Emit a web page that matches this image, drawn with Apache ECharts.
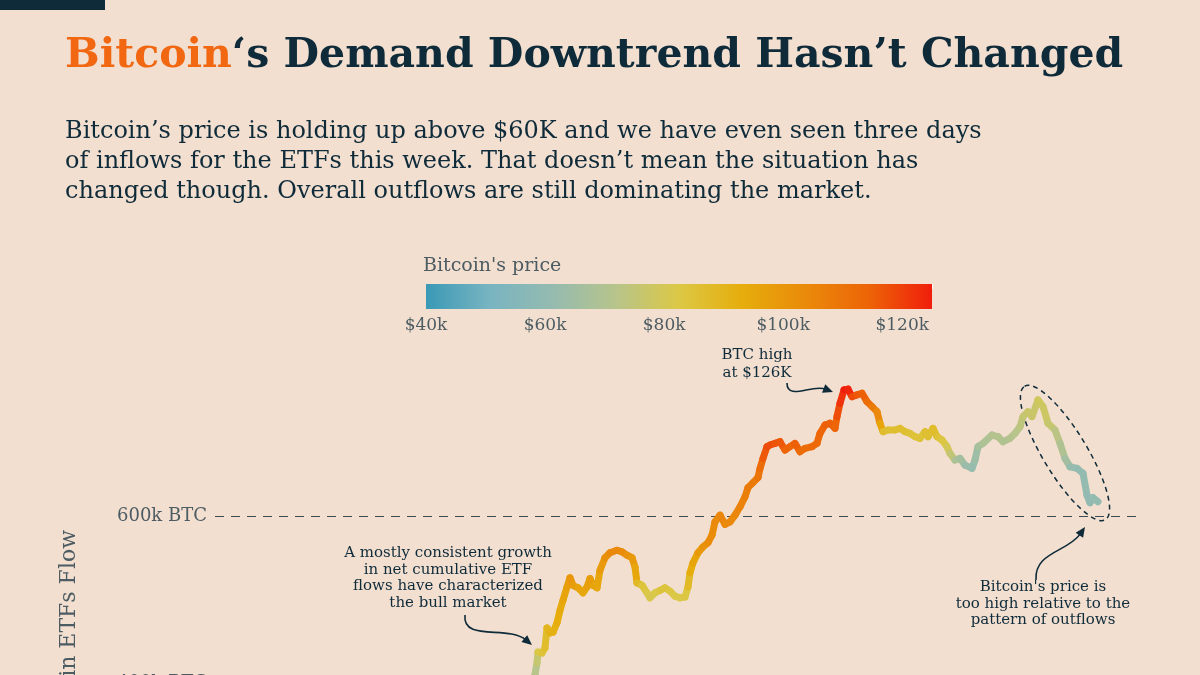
<!DOCTYPE html>
<html><head><meta charset="utf-8">
<script src="https://cdn.jsdelivr.net/npm/echarts@6/dist/echarts.min.js"></script>
<style>html,body{margin:0;padding:0;background:#f2dfd0;}#c{width:1200px;height:675px;}</style>
</head><body><div id="c"></div>
<script>
// ---- data ----
// time position of each sample (arbitrary day-like units along the x axis)
const t = [153.5,157.5,160,161,161.5,163.5,165,166,167.5,169,171,172.5,174,176,177.5,179,181.5,184,186,187.5,189,191,192.5,195,197.5,201,203.5,206,208.5,210,211,213.5,216,217.5,220,222.5,225,227.5,230,232.5,235,236.5,237.5,239,241.5,244,246.5,248.5,250,252.5,255,257.5,260,262.5,265,266.5,269,271.5,272.5,274,276,277.5,280,282.5,285,287.5,290,292.5,295,298.5,301,302.5,305,307.5,310,311,312.5,314.5,316.5,318.5,321,323.5,326,328.5,331,332.5,334,336.5,340,342.5,345,347.5,350,352.5,355,356.5,359,361,363.5,366,367.5,370,372.5,375,378.5,380,381.5,384,388.5,391.5,394,397.5,400,402.5,404,406.5,408.5,411.5,414,416.5,420,422.5,425,427.5,431,434,436,437.5,439,441.5];
// cumulative BTC held via ETF flows, thousands of BTC
const flowK = [344,386,410,424,437,436,442,466,460,461,472,487,499,515,526,517,514,508,515,525,517,514,535,550,556,559,557,553,550,539,520,517,508,502,508,511,514,510,504,502,503,515,532,544,556,563,568,577,593,601,590,593,601,611,623,634,640,646,657,669,683,685,687,689,679,683,687,677,681,683,687,699,709,711,705,719,735,751,752,743,745,747,737,731,725,711,701,703,703,705,701,699,695,693,701,695,705,695,691,683,675,667,669,661,657,667,683,687,697,695,689,693,699,707,719,725,719,739,731,711,703,687,669,659,657,651,625,616,622,617];
// Bitcoin price, thousands of USD
const priceK = [68,70,72,76,82,85,87,90,91,92,93,94,96,98,100,98,96,95,97,98,96,95,99,102,104,104,103,101,99,95,88,84,82,81,82,84,84,83,82,82,83,88,93,96,99,101,103,103,104,105,104,104,105,106,107,108,108,110,112,116,118,118,117,116,114,114,115,112,112,113,113,114,115,115,114,118,122,125,124,118,116,115,112,108,104,96,87,86,86,87,86,85,85,85,86,86,87,85,83,80,75,68,66,63,62,64,67,69,71,71,70,71,72,74,76,77,77,79,78,76,73,70,66,62,61,61,60,60,61,61];
const refLinesK = [600, 400];
const priceTicksK = [40, 60, 80, 100, 120];
const priceMin = 40, priceMax = 125;

const titleOrange = 'Bitcoin';
const titleRest = '‘s Demand Downtrend Hasn’t Changed';
const subtitleLines = [
  'Bitcoin’s price is holding up above $60K and we have even seen three days',
  'of inflows for the ETFs this week. That doesn’t mean the situation has',
  'changed though. Overall outflows are still dominating the market.'
];
const legendTitle = "Bitcoin's price";
const yTitle = 'Cumulative BTC in ETFs Flow';
const noteHigh = 'BTC high\nat $126K';
const noteBull = 'A mostly consistent growth\nin net cumulative ETF\nflows have characterized\nthe bull market';
const noteHighPrice = "Bitcoin's price is\ntoo high relative to the\npattern of outflows";

// ---- styling ----
const BG = '#f2dfd0', DARK = '#0f2b3a', GRAY = '#4d5c63', ORANGE = '#f26711';
const SERIF = '"DejaVu Serif","Liberation Serif",serif';
const priceColors = ['#3a99b6','#78b4c1','#95bbb0','#b7c48b','#dcc845','#e6ad0c','#ea8a0a','#ed6407','#f01e0c'];

const segs = [];
for (let i = 0; i < t.length - 1; i++) segs.push([t[i], flowK[i], priceK[i], t[i + 1], flowK[i + 1]]);

function arrow(p0, c1, c2, p1) {
  const a = Math.atan2(p1[1] - c2[1], p1[0] - c2[0]);
  const L = 10, W = 4.5;
  const b = [p1[0] - L * Math.cos(a), p1[1] - L * Math.sin(a)];
  const l = [b[0] + W * Math.sin(a), b[1] - W * Math.cos(a)];
  const r = [b[0] - W * Math.sin(a), b[1] + W * Math.cos(a)];
  return [
    {type: 'bezierCurve', shape: {x1: p0[0], y1: p0[1], cpx1: c1[0], cpy1: c1[1], cpx2: c2[0], cpy2: c2[1], x2: b[0] + 2 * Math.cos(a), y2: b[1] + 2 * Math.sin(a)}, style: {stroke: DARK, lineWidth: 1.6, fill: null}},
    {type: 'polygon', shape: {points: [p1, l, b, r]}, style: {fill: DARK}}
  ];
}

const chart = echarts.init(document.getElementById('c'));
chart.setOption({
  animation: false,
  backgroundColor: BG,
  title: [
    {left: 60, top: 31, text: '{o|' + titleOrange + '}{d|' + titleRest + '}',
      textStyle: {rich: {
        o: {color: ORANGE, fontFamily: SERIF, fontWeight: 'bold', fontSize: 41},
        d: {color: DARK, fontFamily: SERIF, fontWeight: 'bold', fontSize: 41}
      }}},
    {left: 60, top: 112, text: subtitleLines.join('\n'),
      textStyle: {color: DARK, fontFamily: SERIF, fontWeight: 'normal', fontSize: 24, lineHeight: 30}}
  ],
  grid: [
    {left: 215, right: 60, top: 349, height: 501, outerBoundsMode: 'none', containLabel: false},
    {left: 426, right: 268, top: 284, height: 25, outerBoundsMode: 'none', containLabel: false}
  ],
  xAxis: [
    {gridIndex: 0, type: 'value', min: 0, max: 462.5, show: false},
    {gridIndex: 1, type: 'value', min: priceMin, max: priceMax, interval: 20,
      axisLine: {show: false}, splitLine: {show: false},
      axisTick: {show: false},
      axisLabel: {showMaxLabel: false, formatter: v => '$' + v + 'k', color: GRAY, fontFamily: SERIF, fontSize: 17, margin: 8}},
    {gridIndex: 1, type: 'value', min: priceMin, max: priceMax, interval: 20, position: 'top',
      axisLine: {show: false}, splitLine: {show: false}, axisLabel: {show: false},
      axisTick: {show: true, inside: true, length: 5, lineStyle: {color: 'rgba(255,255,255,0.8)', width: 1.2}}}
  ],
  yAxis: [
    {gridIndex: 0, type: 'value', min: 200, max: 800, show: false},
    {gridIndex: 1, type: 'value', min: 0, max: 1, show: false}
  ],
  visualMap: {type: 'continuous', show: false, min: priceMin, max: priceMax, dimension: 2, seriesIndex: 0,
    inRange: {color: priceColors}},
  series: [
    {type: 'custom', xAxisIndex: 0, yAxisIndex: 0, data: segs, encode: {x: [0, 3], y: [1, 4]}, z: 5,
      renderItem: (params, api) => {
        const p1 = api.coord([api.value(0), api.value(1)]);
        const p2 = api.coord([api.value(3), api.value(4)]);
        return {type: 'line', shape: {x1: p1[0], y1: p1[1], x2: p2[0], y2: p2[1]},
          style: {stroke: api.visual('color'), lineWidth: 7, lineCap: 'round'}};
      }},
    {type: 'line', xAxisIndex: 0, yAxisIndex: 0, data: [], showSymbol: false, z: 2,
      markLine: {silent: true, symbol: ['none', 'none'],
        lineStyle: {color: '#3d4b52', type: [9, 7], width: 1.2},
        label: {position: 'start', distance: 8, formatter: p => p.value + 'k BTC', color: GRAY, fontFamily: SERIF, fontSize: 18},
        data: refLinesK.map(v => ({yAxis: v}))}},
    {type: 'custom', xAxisIndex: 1, yAxisIndex: 1, data: [[priceMin, priceMax]], z: 2,
      renderItem: (params, api) => {
        const a = api.coord([api.value(0), 1]);
        const b = api.coord([api.value(1), 0]);
        return {type: 'rect', shape: {x: a[0], y: a[1], width: b[0] - a[0], height: b[1] - a[1]},
          style: {fill: {type: 'linear', x: 0, y: 0, x2: 1, y2: 0,
            colorStops: priceColors.map((c, i) => ({offset: i / (priceColors.length - 1), color: c}))}}};
      }}
  ],
  graphic: [
    {type: 'rect', shape: {x: 0, y: 0, width: 105, height: 10}, style: {fill: DARK}},
    {type: 'text', x: 423, y: 266, style: {text: legendTitle, fill: GRAY, font: '19px ' + SERIF, textVerticalAlign: 'middle'}},
    {type: 'text', x: 69, y: 530, rotation: Math.PI / 2, style: {text: yTitle, fill: GRAY, font: '22px ' + SERIF, textAlign: 'right', textVerticalAlign: 'middle'}},
    {type: 'text', x: 757, y: 364, style: {text: noteHigh, fill: DARK, font: '15px ' + SERIF, lineHeight: 18, textAlign: 'center', textVerticalAlign: 'middle'}},
    {type: 'text', x: 448, y: 578, style: {text: noteBull, fill: DARK, font: '15px ' + SERIF, lineHeight: 16.7, textAlign: 'center', textVerticalAlign: 'middle'}},
    {type: 'text', x: 1043, y: 604, style: {text: noteHighPrice, fill: DARK, font: '15px ' + SERIF, lineHeight: 16.5, textAlign: 'center', textVerticalAlign: 'middle'}},
    ...arrow([787, 383], [787, 401], [812, 384], [833, 392]),
    ...arrow([465, 615], [462, 642], [508, 625], [532, 645]),
    ...arrow([1036, 580], [1034, 552], [1068, 552], [1085, 527]),
    {type: 'ellipse', x: 1065, y: 453, rotation: -1.026, shape: {cx: 0, cy: 0, rx: 78, ry: 22},
      style: {fill: null, stroke: DARK, lineWidth: 1.5, lineDash: [5, 4]}}
  ]
});
</script></body></html>
